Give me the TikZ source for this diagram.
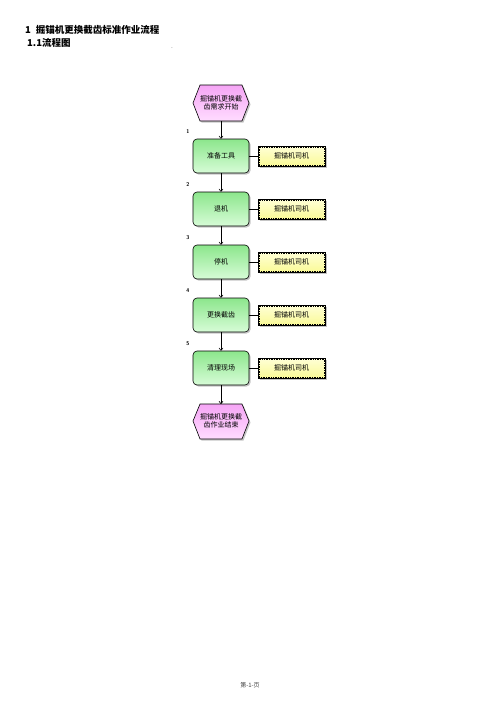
\documentclass[tikz,border=0pt]{standalone}
\usepackage{fontspec}
\newfontfamily\cjk{Noto Sans CJK SC}
\setmainfont{Noto Sans CJK SC}
\usetikzlibrary{arrows.meta,shadows,positioning}
\begin{document}
\begin{tikzpicture}[x=1pt,y=-1pt,
  task/.style={draw=black,line width=0.6pt,rounded corners=4pt,minimum width=56pt,minimum height=34pt,
    top color={rgb,255:red,140;green,230;blue,140}, bottom color={rgb,255:red,215;green,252;blue,215},
    font=\cjk\fontsize{7}{8}\selectfont, drop shadow={shadow xshift=1.5pt,shadow yshift=-1.5pt,fill=black!45}},
  role/.style={draw=black,line width=0.5pt,minimum width=67pt,minimum height=20pt,
    top color={rgb,255:red,255;green,255;blue,215}, bottom color={rgb,255:red,250;green,250;blue,150},
    font=\cjk\fontsize{7}{8}\selectfont, drop shadow={shadow xshift=1.5pt,shadow yshift=-1.5pt,fill=black!45}},
  roleinner/.style={draw=black,line width=0.7pt,densely dotted},
  hexlabel/.style={font=\cjk\fontsize{7}{8.5}\selectfont,align=center,inner sep=0pt},
  hexfill/.style={draw=black,line width=0.6pt,top color={rgb,255:red,245;green,165;blue,245},bottom color={rgb,255:red,255;green,220;blue,255},
    drop shadow={shadow xshift=1.5pt,shadow yshift=-1.5pt,fill=black!45}},
  num/.style={font=\sffamily\bfseries\fontsize{5.5}{6}\selectfont,inner sep=0pt},
  link/.style={draw=black,line width=0.6pt},
  flow/.style={link,-{To[length=3pt,width=4.5pt]}}
]
\useasboundingbox (0,0) rectangle (496,702);
% titles
\node[anchor=west,inner sep=0pt,font=\cjk\bfseries\fontsize{9.5}{11}\selectfont] (t1) at (25,30) {1\hspace{5pt}掘锚机更换截齿标准作业流程};
\node[anchor=west,inner sep=0pt,font=\cjk\bfseries\fontsize{9.5}{11}\selectfont] (t2) at (27,43) {1.1流程图};
\node[inner sep=0pt,font=\fontsize{5}{6}\selectfont] (dot) at (172,48) {.};
% hexagons
\path[hexfill] (193,103) -- (200,85) -- (242,85) -- (249,103) -- (242,121) -- (200,121) -- cycle;
\node[hexlabel] (start) at (221,103) {掘锚机更换截\\齿需求开始};
\coordinate (startb) at (221,121);
\path[hexfill] (193,421) -- (200,404) -- (242,404) -- (249,421) -- (242,439) -- (200,439) -- cycle;
\node[hexlabel] (end) at (221,421) {掘锚机更换截\\齿作业结束};
\coordinate (endt) at (221,404);
% tasks
\node[task] (s1) at (221,156) {准备工具};
\node[task] (s2) at (221,209) {退机};
\node[task] (s3) at (221,262) {停机};
\node[task] (s4) at (221,315) {更换截齿};
\node[task] (s5) at (221,368) {清理现场};
% roles
\foreach \i/\y in {1/156,2/209,3/262,4/315,5/368}{
  \node[role] (r\i) at (291.5,\y) {掘锚机司机};
  \draw[roleinner] ([shift={(1.1pt,-1.1pt)}]r\i.north west) rectangle ([shift={(-1.1pt,1.1pt)}]r\i.south east);
  \node[num] (n\i) at (188,\y-24) {\i};
  \draw[link] (s\i.east) -- (r\i.west);
}
% flow
\draw[flow] (startb) -- (s1.north);
\draw[flow] (s1.south) -- (s2.north);
\draw[flow] (s2.south) -- (s3.north);
\draw[flow] (s3.south) -- (s4.north);
\draw[flow] (s4.south) -- (s5.north);
\draw[flow] (s5.south) -- (endt);
% footer
\node[inner sep=0pt,font=\cjk\fontsize{6}{7}\selectfont,text=black!75] (foot) at (250,685) {第-1-页};
\end{tikzpicture}
\end{document}
